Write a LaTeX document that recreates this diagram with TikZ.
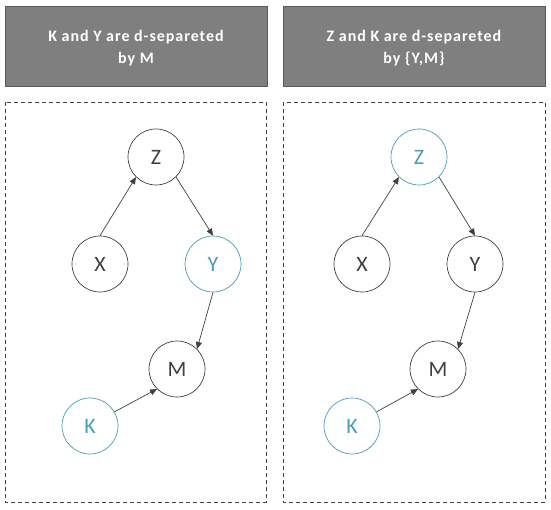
\documentclass[tikz,border=0pt]{standalone}
\usepackage{fontspec}
\setmainfont{Carlito}
\usetikzlibrary{arrows.meta}
\definecolor{teal1}{HTML}{4A9CB8}
\definecolor{hdrfill}{HTML}{7F7F7F}
\definecolor{hdrline}{HTML}{595959}
\definecolor{ink}{HTML}{404040}
\begin{document}
\begin{tikzpicture}[x=1pt,y=-1pt,
  hdr/.style={draw=hdrline,fill=hdrfill,line width=0.8pt},
  hdrtext/.style={text=white,font=\fontsize{16}{22}\selectfont\bfseries\addfontfeature{LetterSpace=6},align=center},
  panel/.style={draw=ink,line width=0.6pt,dash pattern=on 4pt off 3pt},
  var/.style={circle,draw=ink,line width=0.7pt,minimum size=56pt,inner sep=0pt,text=ink,font=\fontsize{22}{22}\selectfont},
  hl/.style={draw=teal1,text=teal1},
  edge/.style={draw=ink,line width=0.7pt,-{Triangle[length=7pt,width=6pt]}}]
\useasboundingbox (0,0) rectangle (551,510);
% headers
\draw[hdr] (5,6) rectangle (267,86);
\draw[hdr] (283,6) rectangle (545,86);
\node[hdrtext] (h1) at (136,48) {K and Y are d-separeted\\by M};
\node[hdrtext] (h2) at (414,48) {Z and K are d-separeted\\by \{Y,M\}};
% panels
\draw[panel] (5,102) rectangle (266,502);
\draw[panel] (283,102) rectangle (545,502);
% left graph
\node[var] (z1) at (156,157) {Z};
\node[var] (x1) at (100,264) {X};
\node[var,hl] (y1) at (213,264) {Y};
\node[var] (m1) at (177,369) {M};
\node[var,hl] (k1) at (90,426) {K};
\draw[edge] (x1.north) -- (z1.225);
\draw[edge] (z1.-45) -- (y1.north);
\draw[edge] (y1.south) -- (m1.45);
\draw[edge] (k1.30) -- (m1.225);
% right graph
\node[var,hl] (z2) at (419,157) {Z};
\node[var] (x2) at (362,264) {X};
\node[var] (y2) at (475,264) {Y};
\node[var] (m2) at (438,369) {M};
\node[var,hl] (k2) at (352,426) {K};
\draw[edge] (x2.north) -- (z2.225);
\draw[edge] (z2.-45) -- (y2.north);
\draw[edge] (y2.south) -- (m2.45);
\draw[edge] (k2.30) -- (m2.225);
\end{tikzpicture}
\end{document}
